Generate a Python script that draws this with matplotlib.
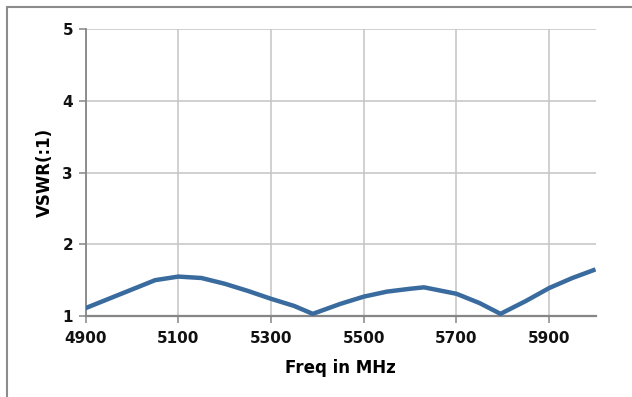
import matplotlib
matplotlib.use('Agg')
import matplotlib.pyplot as plt
from matplotlib.patches import Rectangle

# VSWR sweep of the antenna
freq_mhz = [4900, 4950, 5000, 5050, 5100, 5150, 5200, 5250, 5300, 5350, 5390,
            5450, 5500, 5550, 5600, 5630, 5700, 5750, 5795, 5850, 5900, 5950, 6000]
vswr = [1.11, 1.24, 1.37, 1.50, 1.55, 1.53, 1.45, 1.35, 1.24, 1.14, 1.03,
        1.17, 1.27, 1.34, 1.38, 1.40, 1.31, 1.18, 1.03, 1.21, 1.39, 1.53, 1.65]
x_ticks = [4900, 5100, 5300, 5500, 5700, 5900]
y_ticks = [1, 2, 3, 4, 5]

font = ['Liberation Sans Narrow', 'DejaVu Sans']
plt.rcParams['font.family'] = font

fig = plt.figure(figsize=(6.32, 3.97), dpi=100)
ax = fig.add_axes([85.6 / 632, 1 - 316 / 397, (595.5 - 85.6) / 632, (316 - 29.3) / 397])

ax.plot(freq_mhz, vswr, color='#3A6B9E', lw=3.2, solid_joinstyle='round',
        solid_capstyle='butt', zorder=3)

ax.set_xlim(4900, 6000)
ax.set_ylim(1, 5)
ax.set_xticks(x_ticks)
ax.set_yticks(y_ticks)
ax.grid(True, color='#C4C4C4', lw=1.1)
ax.set_axisbelow(True)

for s in ['top', 'right']:
    ax.spines[s].set_visible(False)
ax.spines['left'].set_color('#868686')
ax.spines['bottom'].set_color('#868686')
ax.spines['left'].set_linewidth(1.3)
ax.spines['bottom'].set_linewidth(1.6)
ax.tick_params(colors='#868686', length=5, width=1.1, labelcolor='#111111', labelsize=11)
for lbl in ax.get_xticklabels() + ax.get_yticklabels():
    lbl.set_fontweight('bold')
ax.tick_params(axis='x', pad=6)
ax.tick_params(axis='y', pad=4)

ax.set_xlabel('Freq in MHz', fontsize=12, fontweight='bold', labelpad=9)
ax.set_ylabel('VSWR(:1)', fontsize=12, fontweight='bold', labelpad=6)

# chart border
fig.patches.append(Rectangle((7 / 632, -0.1), 1.2, 1 - 7 / 397 + 0.1,
                             transform=fig.transFigure, fill=False,
                             edgecolor='#8C8C8C', lw=1.5))

fig.savefig('out.png', dpi=100)
